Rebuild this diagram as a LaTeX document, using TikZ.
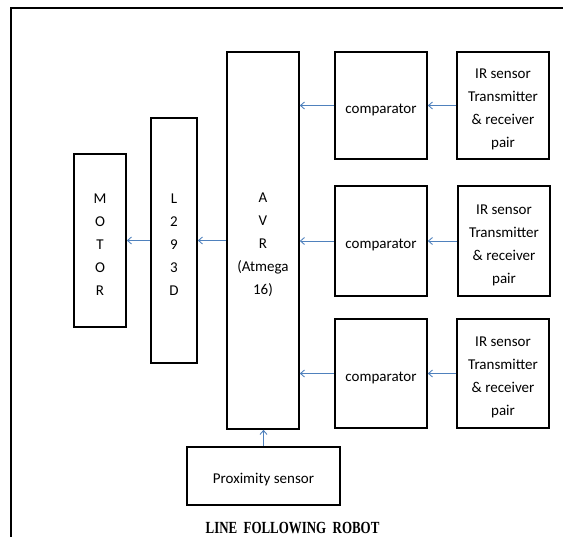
\documentclass[tikz,border=0pt]{standalone}
\usepackage{fontspec}
\setmainfont{Carlito}
\newfontfamily\titlefont{Liberation Serif}
\usetikzlibrary{arrows.meta}
\definecolor{arrowblue}{RGB}{79,129,189}
\newcommand\toppad{\rule{0pt}{17.5pt}}
\tikzset{
  blk/.style={draw=black, line width=1.6pt, inner sep=0pt, align=center,
    font=\fontsize{15}{23}\selectfont},
  conn/.style={draw=arrowblue, line width=0.9pt, -{Straight Barb[length=4pt,width=7pt]}}
}
\begin{document}
\begin{tikzpicture}[x=1pt,y=-1pt]
\useasboundingbox (0,0) rectangle (563,537);
\draw[line width=1.8pt] (570,8) -- (11,8) -- (11,545);
\node[blk, minimum width=52pt, minimum height=173pt] (motor) at (100,240.5) {\toppad M\\O\\T\\O\\R};
\node[blk, minimum width=46pt, minimum height=245pt] (l293) at (174,240.5) {\toppad L\\2\\9\\3\\D};
\node[blk, minimum width=72pt, minimum height=377pt] (avr) at (263,240.5) {\toppad A\\V\\R\\(Atmega\\16)};
\node[blk, minimum width=92pt, minimum height=107pt] (comp1) at (381,105.5) {\toppad comparator};
\node[blk, minimum width=92pt, minimum height=107pt] (ir1) at (503,105.5) {\toppad IR sensor\\Transmitter\\\& receiver\\pair};
\node[blk, minimum width=92pt, minimum height=110pt] (comp2) at (381,241) {\toppad comparator};
\node[blk, minimum width=92pt, minimum height=110pt] (ir2) at (504,241) {\toppad IR sensor\\Transmitter\\\& receiver\\pair};
\node[blk, minimum width=92pt, minimum height=109pt] (comp3) at (381,373.5) {\toppad comparator};
\node[blk, minimum width=92pt, minimum height=109pt] (ir3) at (503,373.5) {\toppad IR sensor\\Transmitter\\\& receiver\\pair};
\node[blk, minimum width=153pt, minimum height=58pt] (prox) at (263.5,476) {\toppad Proximity sensor};
\node[font=\titlefont\bfseries\fontsize{17}{20}\selectfont, xscale=0.76] (title) at (292.5,528) {LINE\ \ FOLLOWING\ \ ROBOT};
\draw[conn] (ir1.west) -- (comp1.east);
\draw[conn] (ir2.west) -- (comp2.east);
\draw[conn] (ir3.west) -- (comp3.east);
\draw[conn] (comp1.west) -- (comp1.west -| avr.east);
\draw[conn] (comp2.west) -- (comp2.west -| avr.east);
\draw[conn] (comp3.west) -- (comp3.west -| avr.east);
\draw[conn] (avr.west |- l293.east) -- (l293.east);
\draw[conn] (l293.west) -- (motor.east);
\draw[conn] (prox.north) -- (prox.north |- avr.south);
\end{tikzpicture}
\end{document}
